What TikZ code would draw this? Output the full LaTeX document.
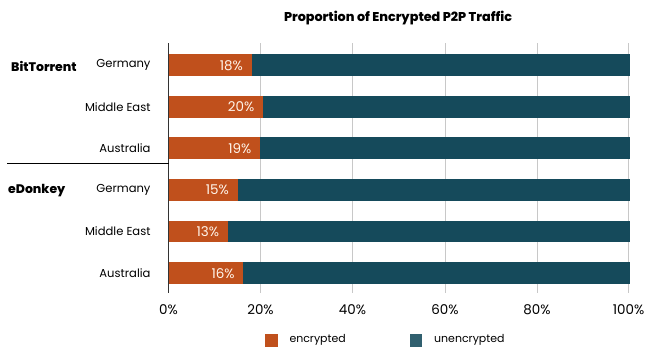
\documentclass[tikz,border=0pt]{standalone}
\usepackage{fontspec}
\setmainfont{Poppins}
\newfontfamily\heavy{Poppins}[UprightFont=* ExtraBold]
\begin{document}
\begin{tikzpicture}[x=1bp,y=-1bp,
  enc/.style={fill=encC,draw=none},
  unenc/.style={fill=uncC,draw=none},
  grid/.style={draw=gridC,line width=0.8bp},
  lbl/.style={font=\fontsize{11.6}{13}\selectfont,text=black,inner sep=0pt},
  leg/.style={font=\fontsize{11}{13}\selectfont,text=black,inner sep=0pt,anchor=west},
  pct/.style={font=\fontsize{13.5}{15}\selectfont,text=white!92!orange,inner sep=0pt,anchor=east},
  grp/.style={font=\fontsize{12.5}{14}\selectfont\heavy,inner sep=0pt,anchor=west},
  tick/.style={font=\fontsize{13.5}{15}\selectfont,inner sep=0pt},
]
\definecolor{encC}{HTML}{C0501C}
\definecolor{uncC}{HTML}{154A5B}
\definecolor{gridC}{HTML}{C8C8C8}
\definecolor{axC}{HTML}{333333}
\useasboundingbox (0,0) rectangle (647,349);
\fill[white] (0,0) rectangle (647,349);
% title
\node[font=\fontsize{12.8}{14}\selectfont\heavy,inner sep=0pt] (title) at (398,18) {Proportion of Encrypted P2P Traffic};
% gridlines
\foreach \i/\x in {1/260.5,2/352.5,3/445,4/537,5/628.5}{
  \draw[grid] (\x,43) -- (\x,293);
}
% bars
\foreach \n/\yc/\e/\p in {1/65.2/251.5/18,2/106.8/263/20,3/148.2/260/19,4/190/237.5/15,5/231.5/227.7/13,6/273.2/243.3/16}{
  \fill[unenc] (\e,\yc-10.85) rectangle (630,\yc+10.85);
  \fill[enc] (168.5,\yc-10.85) rectangle (\e,\yc+10.85);
  \node[pct] (p\n) at (\e-8.5,\yc) {\p\%};
}
% axis
\draw[axC,line width=1bp] (168.5,43) -- (168.5,293);
\draw[black,line width=0.8bp] (7,163.3) -- (168.5,163.3);
% row labels
\foreach \n/\yc/\t in {1/65.2/Germany,2/106.8/Middle East,3/148.2/Australia,4/190/Germany,5/231.5/Middle East,6/273.2/Australia}{
  \node[lbl,anchor=east] (r\n) at (150.7,\yc) {\t};
}
\node[grp] (g1) at (11,66) {BitTorrent};
\node[grp] (g2) at (8,191) {eDonkey};
% ticks
\foreach \x/\t in {168.5/0,260.5/20,352.5/40,445/60,537/80,628.5/100}{
  \node[tick] at (\x,310) {\t\%};
}
% legend
\fill[encC] (265,334) rectangle (277.5,346.5);
\node[leg] (l1) at (289.3,340.3) {encrypted};
\fill[uncC!88!white] (409.5,334) rectangle (422.3,346.5);
\node[leg] (l2) at (434,340.3) {unencrypted};
\end{tikzpicture}
\end{document}
